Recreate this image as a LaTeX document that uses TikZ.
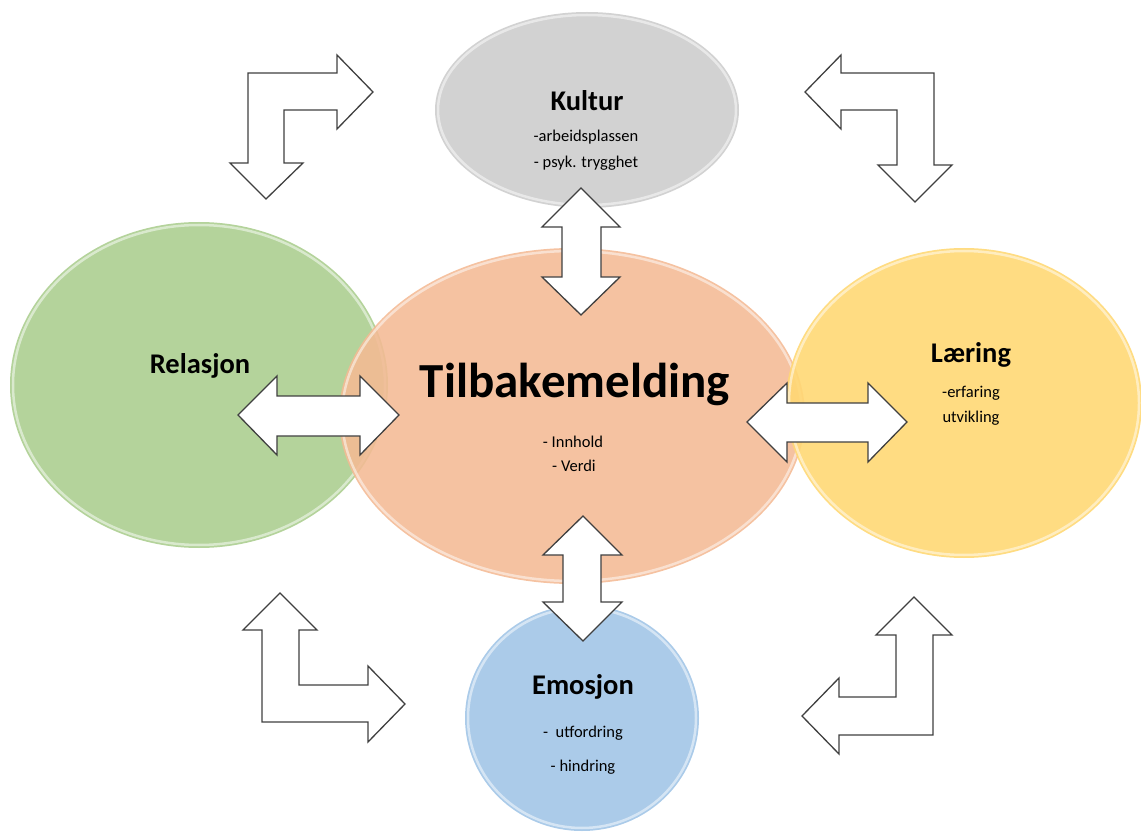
\documentclass[tikz,border=0pt]{standalone}
\usepackage{fontspec}
\setmainfont{Carlito}
\begin{document}
\begin{tikzpicture}[x=1pt,y=-1pt,
  rim/.style={draw=white, line width=2.5pt, draw opacity=0.5},
  barrow/.style={draw=black!75, fill=white, line width=1.3pt, line join=miter},
  ttl/.style={font=\fontsize{28.5}{32}\selectfont\bfseries},
  sub/.style={font=\fontsize{16.5}{19}\selectfont},
]
\useasboundingbox (0,0) rectangle (1141,834);
\definecolor{cgray}{HTML}{D2D2D2}
\definecolor{corange}{HTML}{F4BA94}
\definecolor{cgreen}{HTML}{B4D39B}
\definecolor{cyellow}{HTML}{FFD874}
\definecolor{cblue}{HTML}{ABCBE9}
% ellipses
\fill[cgreen] (199,385) ellipse [x radius=189, y radius=163];
\draw[rim] (199,385) ellipse [x radius=186, y radius=160];
\fill[cgray] (587,110) ellipse [x radius=152, y radius=98];
\draw[rim] (587,110) ellipse [x radius=149, y radius=95];
\fill[corange, fill opacity=0.88] (572,416) ellipse [x radius=233, y radius=168];
\draw[rim] (572,416) ellipse [x radius=230, y radius=165];
\fill[cyellow, fill opacity=0.9] (964,403) ellipse [x radius=178, y radius=155];
\draw[rim] (964,403) ellipse [x radius=175, y radius=152];
\fill[cblue] (582,718) ellipse [x radius=117, y radius=113];
\draw[rim] (582,718) ellipse [x radius=114, y radius=110];
% text nodes
\node[ttl] (kultur) at (587,101) {Kultur};
\node[sub] (k1) at (586,137) {-arbeidsplassen};
\node[sub] (k2) at (586,163) {- psyk. trygghet};
\node[font=\fontsize{49}{53}\selectfont\bfseries] (tilb) at (575,384) {Tilbakemelding};
\node[sub] (t1) at (573,442) {- Innhold};
\node[sub] (t2) at (574,466) {- Verdi};
\node[ttl] (rel) at (200,366) {Relasjon};
\node[ttl] (laer) at (971,355) {Læring};
\node[sub] (l1) at (971,393) {-erfaring};
\node[sub] (l2) at (971,418) {utvikling};
\node[ttl] (emo) at (583,687) {Emosjon};
\node[sub] (e1) at (583,733) {-\ \ utfordring};
\node[sub] (e2) at (583,767) {- hindring};
% double arrows
\draw[barrow] (581,188) -- (620,227) -- (601,227) -- (601,277) -- (620,277) -- (581,315)
  -- (542,277) -- (562,277) -- (562,227) -- (542,227) -- cycle;
\draw[barrow] (583,516) -- (622,555) -- (601,555) -- (601,602) -- (622,602) -- (583,641)
  -- (543,602) -- (563,602) -- (563,555) -- (543,555) -- cycle;
\draw[barrow] (238,415) -- (277,376) -- (277,396) -- (360,396) -- (360,376) -- (399,415)
  -- (360,455) -- (360,436) -- (277,436) -- (277,455) -- cycle;
\draw[barrow] (747,422) -- (787,383) -- (787,403) -- (868,403) -- (868,383) -- (907,422)
  -- (868,462) -- (868,442) -- (787,442) -- (787,462) -- cycle;
% bent arrows
\draw[barrow] (248,73) -- (337,73) -- (337,55) -- (373,92) -- (337,129) -- (337,110)
  -- (284,110) -- (284,163) -- (303,163) -- (266,199) -- (230,163) -- (248,163) -- cycle;
\draw[barrow] (805,92) -- (841,55) -- (841,73) -- (934,73) -- (934,165) -- (952,165)
  -- (915,202) -- (878,165) -- (897,165) -- (897,110) -- (841,110) -- (841,129) -- cycle;
\draw[barrow] (280,593) -- (317,630) -- (299,630) -- (299,685) -- (368,685) -- (368,666)
  -- (405,704) -- (368,742) -- (368,722) -- (262,722) -- (262,630) -- (243,630) -- cycle;
\draw[barrow] (914,597) -- (952,635) -- (933,635) -- (933,735) -- (839,735) -- (839,754)
  -- (802,716) -- (839,678) -- (839,697) -- (896,697) -- (896,635) -- (876,635) -- cycle;
\end{tikzpicture}
\end{document}
